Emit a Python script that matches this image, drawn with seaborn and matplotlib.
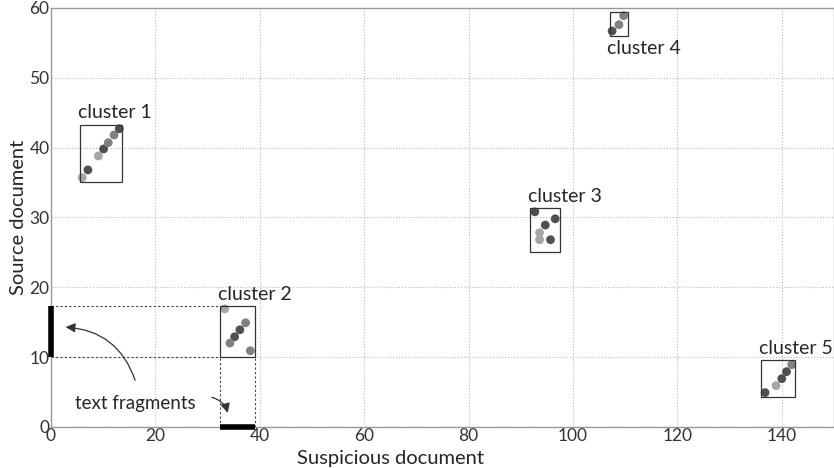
import pandas as pd
import matplotlib.pyplot as plt
import seaborn as sns
from matplotlib.patches import Rectangle

# ---------------- DATA ----------------
cluster_names = ["cluster 1", "cluster 2", "cluster 3", "cluster 4", "cluster 5"]

c1_x = [6.0, 7.1, 9.1, 10.1, 11.0, 12.1, 13.1]
c1_y = [35.7, 36.8, 38.8, 39.8, 40.7, 41.8, 42.7]
c1_shade = ["light", "dark", "light", "dark", "mid", "mid", "dark"]

c2_x = [33.3, 37.3, 36.2, 35.2, 34.3, 38.2]
c2_y = [16.9, 14.9, 13.9, 12.9, 12.0, 10.9]
c2_shade = ["light", "mid", "dark", "dark", "mid", "mid"]

c3_x = [92.7, 96.6, 94.7, 93.6, 93.6, 95.7]
c3_y = [30.8, 29.8, 28.9, 27.8, 26.8, 26.8]
c3_shade = ["dark", "dark", "dark", "light", "light", "dark"]

c4_x = [107.5, 108.8, 109.7]
c4_y = [56.7, 57.6, 58.9]
c4_shade = ["dark", "mid", "mid"]

c5_x = [136.8, 138.9, 140.0, 140.9, 141.9]
c5_y = [4.9, 5.9, 6.9, 7.9, 8.9]
c5_shade = ["dark", "light", "dark", "dark", "mid"]

# bounding boxes (x0, x1, y0, y1)
box_x0 = [5.5, 32.4, 91.8, 107.0, 136.1]
box_x1 = [13.6, 39.1, 97.6, 110.6, 142.6]
box_y0 = [35.1, 10.0, 25.0, 56.0, 4.3]
box_y1 = [43.3, 17.3, 31.3, 59.4, 9.5]

x_ticks = [0, 20, 40, 60, 80, 100, 120, 140]
y_ticks = [0, 10, 20, 30, 40, 50, 60]

frames = []
for i, (xs, ys, sh) in enumerate([(c1_x, c1_y, c1_shade), (c2_x, c2_y, c2_shade),
                                  (c3_x, c3_y, c3_shade), (c4_x, c4_y, c4_shade),
                                  (c5_x, c5_y, c5_shade)]):
    frames.append(pd.DataFrame({"x": xs, "y": ys, "shade": sh, "cluster": cluster_names[i]}))
df = pd.concat(frames, ignore_index=True)

sns.set_style("whitegrid")
plt.rcParams["font.family"] = ["Lato", "DejaVu Sans"]

fig, ax = plt.subplots(figsize=(8.34, 4.68), dpi=100)
fig.subplots_adjust(left=0.061, right=1.0, top=0.983, bottom=0.088)

sns.scatterplot(data=df, x="x", y="y", hue="shade",
                palette={"light": "#a6a6a6", "mid": "#808080", "dark": "#505050"},
                s=40, edgecolor="none", legend=False, ax=ax, zorder=3)

# cluster boxes and labels
for i, name in enumerate(cluster_names):
    x0, x1, y0, y1 = box_x0[i], box_x1[i], box_y0[i], box_y1[i]
    ax.add_patch(Rectangle((x0, y0), x1 - x0, y1 - y0, fill=False,
                           edgecolor="#333333", lw=0.9, zorder=4))
    if i == 3:
        ax.text(x0 - 0.5, y0 - 0.6, name, ha="left", va="top", fontsize=14)
    else:
        ax.text(x0 - 0.4, y1 + 0.5, name, ha="left", va="bottom", fontsize=14)

# projections of cluster 2 onto axes
ax.plot([0, box_x0[1]], [box_y1[1], box_y1[1]], ls="--", color="#444444", lw=0.8, dashes=(2, 2))
ax.plot([0, box_x0[1]], [box_y0[1], box_y0[1]], ls="--", color="#444444", lw=0.8, dashes=(2, 2))
ax.plot([box_x0[1], box_x0[1]], [0, box_y0[1]], ls="--", color="#444444", lw=0.8, dashes=(2, 2))
ax.plot([box_x1[1], box_x1[1]], [0, box_y0[1]], ls="--", color="#444444", lw=0.8, dashes=(2, 2))
ax.plot([0, 0], [box_y0[1], box_y1[1]], color="black", lw=4, solid_capstyle="butt",
        clip_on=False, zorder=5)
ax.plot([box_x0[1], box_x1[1]], [0, 0], color="black", lw=4, solid_capstyle="butt",
        clip_on=False, zorder=5)

# annotations
ax.text(16.2, 3.3, "text fragments", ha="center", va="center", fontsize=13.5)
ax.annotate("", xy=(2.3, 14.3), xytext=(16.3, 6.3),
            arrowprops=dict(arrowstyle="-|>", color="#333333", lw=0.9,
                            connectionstyle="arc3,rad=0.35", mutation_scale=14))
ax.annotate("", xy=(34.0, 1.6), xytext=(30.3, 4.3),
            arrowprops=dict(arrowstyle="-|>", color="#333333", lw=0.9,
                            connectionstyle="arc3,rad=-0.35", mutation_scale=14))

ax.set_xlim(0, 150)
ax.set_ylim(0, 60)
ax.set_xticks(x_ticks)
ax.set_yticks(y_ticks)
ax.grid(True, color="#bbbbbb", ls=":", lw=0.8)
ax.tick_params(length=0, labelsize=12.5, pad=1, colors="#333333")
for sp in ax.spines.values():
    sp.set_color("#999999")
    sp.set_linewidth(1.0)
ax.set_xlabel("Suspicious document", fontsize=14.5, labelpad=0)
ax.xaxis.set_label_coords(0.434, -0.055)
ax.set_ylabel("Source document", fontsize=14.5, labelpad=2)

plt.savefig("out.png", dpi=100)
